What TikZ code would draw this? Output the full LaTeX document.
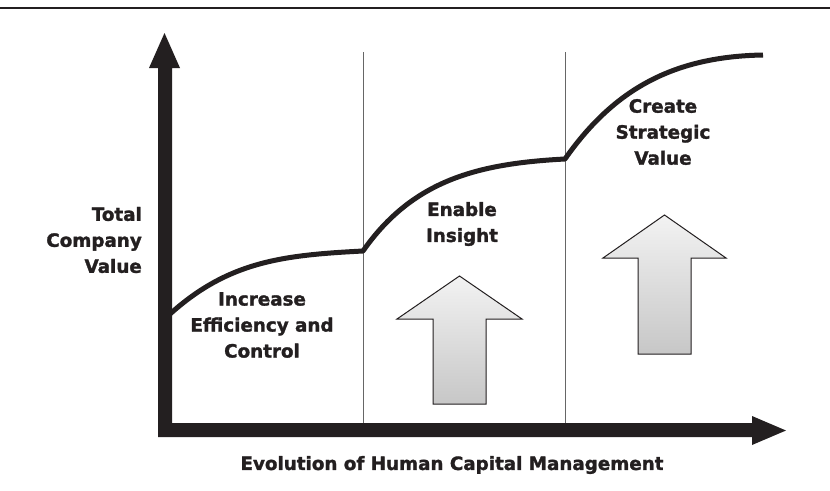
\documentclass[tikz,border=0pt]{standalone}
\usepackage{fontspec}
\setmainfont{DejaVu Sans}[BoldFeatures={FakeBold=1.6}]
\definecolor{ink}{HTML}{231F20}
\begin{document}
\begin{tikzpicture}[x=1pt,y=-1pt,
  lbl/.style={font=\bfseries\fontsize{18.3}{26}\selectfont, align=center, text=ink, inner sep=0pt},
  axisbar/.style={fill=ink, draw=none},
  curve/.style={draw=ink, line width=5pt, line cap=butt, line join=round},
  divider/.style={draw=black!60, line width=0.9pt},
  blockarrow/.style={draw=ink, line width=1pt, top color=white!95!black, bottom color=black!22}]
\useasboundingbox (0,0) rectangle (830,490);
\fill[white] (0,0) rectangle (830,490);
% top rule
\draw[ink, line width=1.5pt] (0,8) -- (830,8);
% dividers
\coordinate (d1t) at (363,52); \coordinate (d1b) at (363,423);
\coordinate (d2t) at (565,52); \coordinate (d2b) at (565,423);
\draw[divider] (d1t) -- (d1b);
\draw[divider] (d2t) -- (d2b);
% axes
\fill[axisbar] (158,437) -- (158,68) -- (149,68) -- (164.5,33) -- (180,68) -- (172,68) -- (172,423)
  -- (752,423) -- (752,416) -- (786,430.5) -- (752,445) -- (752,437) -- cycle;
% curve
\coordinate (c0) at (170,314);
\coordinate (c1) at (363,251);
\coordinate (c2) at (565,159);
\coordinate (c3) at (763,55);
\draw[curve] (c0) to[out=42,in=183] (c1)
  to[out=55,in=183] (c2)
  to[out=55,in=181] (c3);
% block arrows
\path[blockarrow] (433,404) -- (433,319) -- (397,319) -- (459.5,276) -- (522,319) -- (486,319) -- (486,404) -- cycle;
\path[blockarrow] (638,354) -- (638,258) -- (603,258) -- (664.5,215) -- (726,258) -- (691,258) -- (691,354) -- cycle;
% labels
\node[lbl, align=right, anchor=east] (yl) at (142,240) {Total\\Company\\Value};
\node[lbl] (t1) at (262,325) {Increase\\Efficiency and\\Control};
\node[lbl] (t2) at (462,224) {Enable\\Insight};
\node[lbl] (t3) at (663,132) {Create\\Strategic\\Value};
\node[lbl] (xl) at (452,465) {Evolution of Human Capital Management};
\end{tikzpicture}
\end{document}
